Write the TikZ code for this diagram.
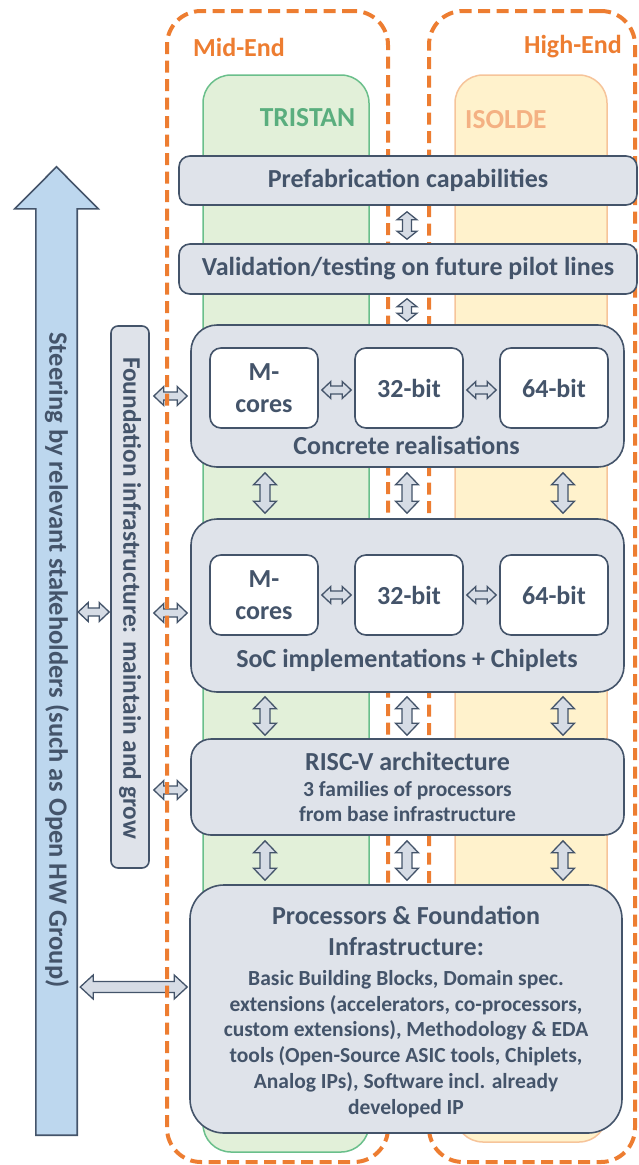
\documentclass[tikz,border=0pt]{standalone}
\usepackage{fontspec}
\setmainfont{Carlito}
\usetikzlibrary{calc}

\definecolor{ink}{HTML}{44546A}
\definecolor{boxfill}{HTML}{DFE3EA}
\definecolor{arrfill}{HTML}{D6DCE5}
\definecolor{steerfill}{HTML}{BDD7EE}
\definecolor{frameorange}{HTML}{ED7D31}
\definecolor{tristanfill}{HTML}{E2F0D9}
\definecolor{tristanline}{HTML}{6ABF8B}
\definecolor{tristantext}{HTML}{5AAE7E}
\definecolor{isoldefill}{HTML}{FFF2CC}
\definecolor{isoldeline}{HTML}{F6C49A}
\definecolor{isoldetext}{HTML}{F4B183}

\newcommand\tkBig{\fontsize{26}{31}\selectfont}
\newcommand\tkSmall{\fontsize{21.5}{25.8}\selectfont}

\pgfdeclarelayer{cols}
\pgfdeclarelayer{links}
\pgfdeclarelayer{frames}
\pgfsetlayers{cols,links,frames,main}

\begin{document}
\begin{tikzpicture}[x=1pt,y=-1pt,
  frame/.style={draw=frameorange, line width=4pt, dash pattern=on 12pt off 6.5pt,
    rounded corners=34pt, inner sep=0},
  column/.style={line width=1.5pt, rounded corners=28pt, inner sep=0},
  panel/.style={draw=ink, fill=boxfill, line width=1.6pt, inner sep=0, align=center,
    text=ink, font=\tkBig\bfseries},
  core/.style={draw=ink, fill=white, line width=1.6pt, rounded corners=11pt,
    minimum width=108, minimum height=80, inner sep=0, align=center, text=ink,
    font={\fontsize{26}{32}\selectfont\bfseries}},
  caption/.style={text=ink, font=\tkBig\bfseries, inner sep=0},
  tag/.style={font=\tkBig\bfseries, inner sep=0},
  blockarrow/.style n args={3}{draw=ink, fill=arrfill, line width=1.3pt, line join=miter,
    to path={let \p1=(\tikztostart), \p2=(\tikztotarget),
      \n1={atan2(\y2-\y1,\x2-\x1)}, \n2={veclen(\x2-\x1,\y2-\y1)} in
      -- ($(\p1)+(\n1:#1)+(\n1+90:#2)$)
      -- ($(\p1)+(\n1:#1)+(\n1+90:#3)$)
      -- ($(\p1)+(\n1:\n2-#1)+(\n1+90:#3)$)
      -- ($(\p1)+(\n1:\n2-#1)+(\n1+90:#2)$)
      -- (\p2)
      -- ($(\p1)+(\n1:\n2-#1)+(\n1-90:#2)$)
      -- ($(\p1)+(\n1:\n2-#1)+(\n1-90:#3)$)
      -- ($(\p1)+(\n1:#1)+(\n1-90:#3)$)
      -- ($(\p1)+(\n1:#1)+(\n1-90:#2)$)
      -- cycle}},
  varrow/.style={blockarrow={12pt}{11.5pt}{5pt}},
  shortvarrow/.style={blockarrow={8pt}{10pt}{4.5pt}},
  inarrow/.style={blockarrow={9pt}{8.5pt}{4pt}},
  sidearrow/.style={blockarrow={10pt}{9.5pt}{4pt}},
  bigarrow/.style={blockarrow={13pt}{12pt}{5.5pt}},
]
\useasboundingbox (0,0) rectangle (638,1165);

% ---- stacked layers of the platform ----
\node[panel, rounded corners=11pt, minimum width=458, minimum height=49] (prefab) at (408,180.5)
  {Prefabrication capabilities};
\node[panel, rounded corners=11pt, minimum width=458, minimum height=50] (valid) at (408,269)
  {Validation/testing on future pilot lines};

\node[panel, rounded corners=26pt, minimum width=433, minimum height=142] (real) at (407.5,396) {};
\node[core] (realm) at (264,388) {M-\\cores};
\node[core] (real32) at (409,388) {32-bit};
\node[core] (real64) at (554,388) {64-bit};
\node[caption] (reallbl) at (406.5,445) {Concrete realisations};

\node[panel, rounded corners=26pt, minimum width=433, minimum height=173] (soc) at (407.5,605.5) {};
\node[core] (socm) at (264,595) {M-\\cores};
\node[core] (soc32) at (409,595) {32-bit};
\node[core] (soc64) at (554,595) {64-bit};
\node[caption] (soclbl) at (407,660) {SoC implementations + Chiplets};

\node[panel, rounded corners=20pt, minimum width=433, minimum height=96, font=\tkSmall\bfseries]
  (riscv) at (407.5,787)
  {{\tkBig RISC-V architecture}\\3 families of processors\\from base infrastructure};

\node[panel, rounded corners=34pt, minimum width=432, minimum height=248] (proc) at (406,1009) {};
\node[text=ink, font=\tkSmall\bfseries, align=center, inner sep=0] (proclbl) at (406,1012)
  {{\tkBig Processors \& Foundation}\\[5pt]{\tkBig Infrastructure:}\\[4pt]
   Basic Building Blocks, Domain spec.\\
   extensions (accelerators, co-processors,\\
   custom extensions), Methodology \& EDA\\
   tools (Open-Source ASIC tools, Chiplets,\\
   Analog IPs), Software incl. already\\
   developed IP};

% ---- foundation bar and steering arrow ----
\node[draw=ink, fill=boxfill, line width=1.6pt, rounded corners=7pt, inner sep=0,
  minimum width=38, minimum height=542] (found) at (130,597) {};
\node[rotate=-90, text=ink, font={\fontsize{25.3}{30}\selectfont\bfseries}, inner sep=0]
  (foundlbl) at (130,598) {Foundation infrastructure: maintain and grow};

\node[inner sep=0, minimum width=41, minimum height=926] (steer) at (56.5,672) {};
\draw[draw=ink, fill=steerfill, line width=1.6pt, line join=miter]
  (steer.south west) -- (steer.north west) -- ++(-21,0) -- ($(steer.north)+(0,-42)$)
  -- ($(steer.north east)+(21,0)$) -- (steer.north east) -- (steer.south east) -- cycle;
\node[rotate=-90, text=ink, font={\fontsize{26.5}{31}\selectfont\bfseries}, inner sep=0]
  (steerlbl) at (57,660) {Steering by relevant stakeholders (such as Open HW Group)};

% ---- links between the layers ----
\coordinate (c1) at (265,0);
\coordinate (c2) at (407,0);
\coordinate (c3) at (563,0);

\draw[shortvarrow] ($(prefab.south -| c2)+(0,6)$) to ($(valid.north -| c2)+(0,-4)$);
\draw[shortvarrow] ($(valid.south -| c2)+(0,4)$) to ($(real.north -| c2)+(0,-3)$);
\foreach \c in {c1,c2,c3} {
  \draw[varrow] ($(real.south -| \c)+(0,5)$) to ($(soc.north -| \c)+(0,-5)$);
  \draw[varrow] ($(soc.south -| \c)+(0,4)$) to ($(riscv.north -| \c)+(0,-3)$);
  \draw[varrow] ($(riscv.south -| \c)+(0,5)$) to ($(proc.north -| \c)+(0,-4)$);
}

\draw[inarrow] ($(realm.east)+(3,2)$) to ($(real32.west)+(-3,2)$);
\draw[inarrow] ($(real32.east)+(3,2)$) to ($(real64.west)+(-3,2)$);
\draw[inarrow] ($(socm.east)+(3,0)$) to ($(soc32.west)+(-3,0)$);
\draw[inarrow] ($(soc32.east)+(3,0)$) to ($(soc64.west)+(-3,0)$);

\begin{pgfonlayer}{links}
  \draw[sidearrow] ($(found.east |- 0,396)+(4,0)$) to ($(real.west |- 0,396)+(-3,0)$);
  \draw[sidearrow] ($(found.east |- 0,613)+(4,0)$) to ($(soc.west |- 0,613)+(-3,0)$);
  \draw[sidearrow] ($(found.east |- 0,790)+(4,0)$) to ($(riscv.west |- 0,790)+(-3,0)$);
  \draw[sidearrow] ($(steer.east |- 0,612)+(1,0)$) to ($(found.west |- 0,612)+(-1,0)$);
  \draw[bigarrow] ($(steer.east |- 0,987)+(3,0)$) to ($(proc.west |- 0,987)+(-2,0)$);
\end{pgfonlayer}

% ---- Mid-End and High-End frames with their projects ----
\begin{pgfonlayer}{frames}
  \node[frame, minimum width=221, minimum height=1151] (midend) at (277.5,586.5) {};
  \node[frame, minimum width=206, minimum height=1151] (highend) at (532,586.5) {};
\end{pgfonlayer}
\node[tag, text=frameorange, anchor=west] (midlbl) at (193,47) {Mid-End};
\node[tag, text=frameorange, anchor=east] (highlbl) at (622,47) {High-End};

\begin{pgfonlayer}{cols}
  \node[column, draw=tristanline, fill=tristanfill, minimum width=166, minimum height=1077]
    (tristan) at (286,613.5) {};
  \node[column, draw=isoldeline, fill=isoldefill, minimum width=152, minimum height=1067]
    (isolde) at (531,608.5) {};
\end{pgfonlayer}
\node[tag, text=tristantext, font={\fontsize{27.5}{32}\selectfont\bfseries}] (tristanlbl)
  at (307.5,118) {TRISTAN};
\node[tag, text=isoldetext, anchor=west, font={\fontsize{27.5}{32}\selectfont\bfseries}]
  (isoldelbl) at (465,120) {ISOLDE};
\end{tikzpicture}
\end{document}
